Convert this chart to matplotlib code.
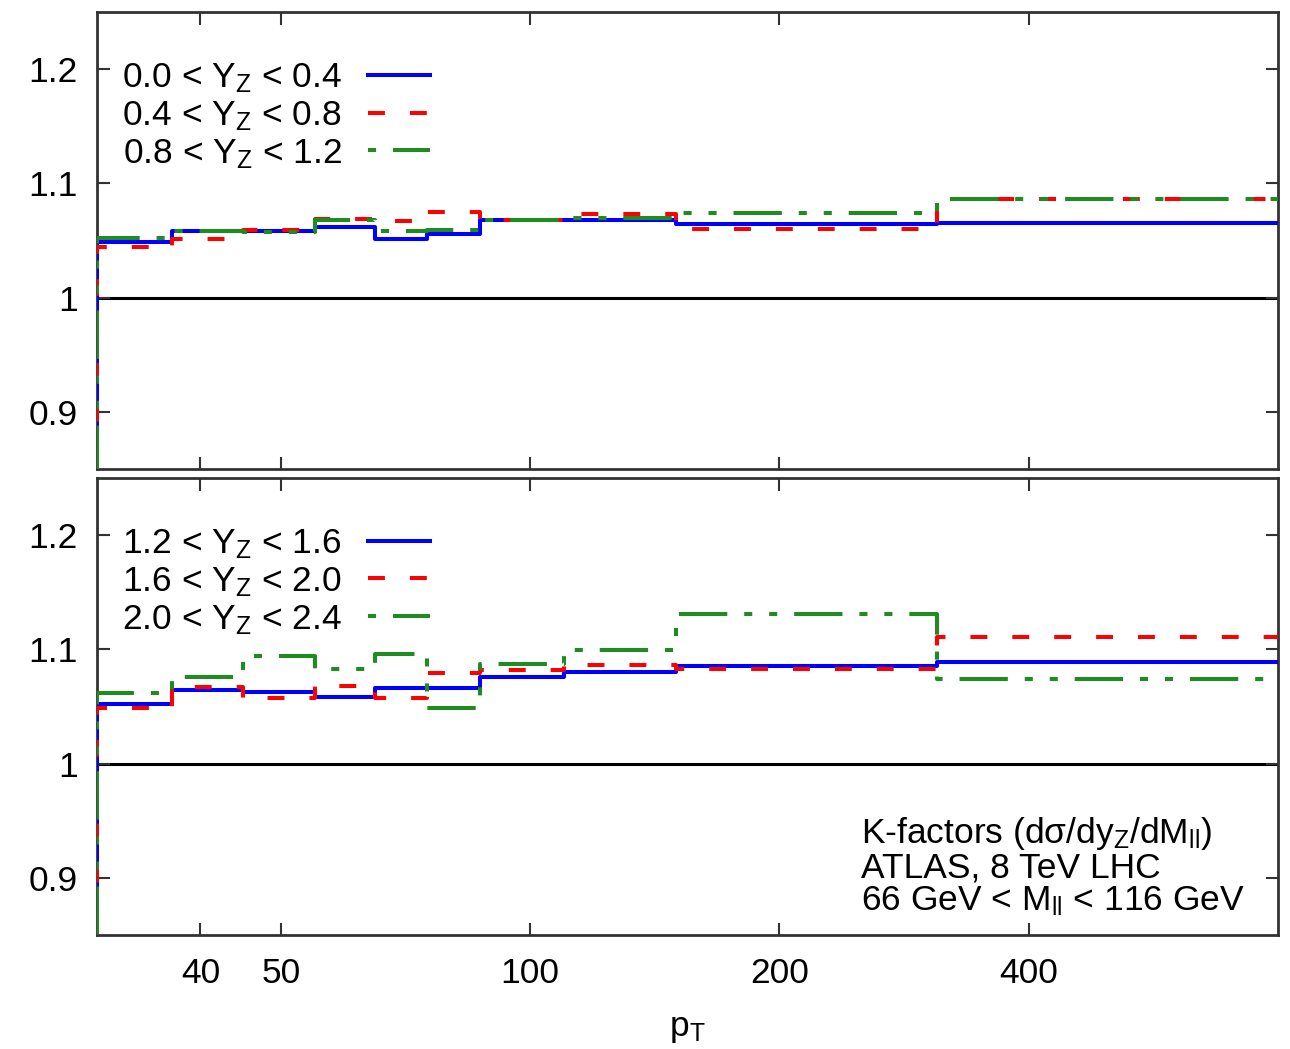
import numpy as np
import matplotlib
matplotlib.use('Agg')
import matplotlib.pyplot as plt
from matplotlib.lines import Line2D
from matplotlib.ticker import FixedLocator, NullLocator, FuncFormatter

plt.rcParams['font.family'] = ['Liberation Sans', 'DejaVu Sans']
plt.rcParams['mathtext.default'] = 'regular'

# pT bin edges (GeV)
edges = [30, 37, 45, 55, 65, 75, 87, 110, 150, 310, 800]

# K-factors, upper panel
k_00_04 = [1.049, 1.058, 1.058, 1.062, 1.051, 1.056, 1.068, 1.068, 1.064, 1.065]
k_04_08 = [1.044, 1.051, 1.059, 1.069, 1.067, 1.075, 1.068, 1.073, 1.060, 1.086]
k_08_12 = [1.052, 1.058, 1.057, 1.068, 1.058, 1.059, 1.068, 1.070, 1.074, 1.086]

# K-factors, lower panel
k_12_16 = [1.052, 1.064, 1.063, 1.058, 1.066, 1.066, 1.076, 1.080, 1.085, 1.089]
k_16_20 = [1.049, 1.067, 1.057, 1.068, 1.057, 1.079, 1.082, 1.086, 1.083, 1.111]
k_20_24 = [1.062, 1.076, 1.094, 1.083, 1.096, 1.049, 1.087, 1.099, 1.131, 1.074]

top_labels = ['0.0 < Y$_Z$ < 0.4', '0.4 < Y$_Z$ < 0.8', '0.8 < Y$_Z$ < 1.2']
bot_labels = ['1.2 < Y$_Z$ < 1.6', '1.6 < Y$_Z$ < 2.0', '2.0 < Y$_Z$ < 2.4']

xticks = [40, 50, 100, 200, 400]
yticks = [0.9, 1.0, 1.1, 1.2]

lw = 2.9
colors = ['#0000ff', '#ff0000', '#1e8c1e']
line_styles = ['-', (0, (4.2, 6.2)), (0, (12, 4.2, 2, 4.2, 2, 4.2))]
# legend samples: green starts on a dot like the gnuplot key
legend_styles = ['-', (0, (4.2, 6.2)), (22.4, (12, 4.2, 2, 4.2, 2, 4.2))]

fig = plt.figure(figsize=(12.9, 10.49), dpi=100)
ax1 = fig.add_axes([0.0752, 0.5529, 0.9155, 0.4357])
ax2 = fig.add_axes([0.0752, 0.1087, 0.9155, 0.4357])

fs = 25.5


def draw_panel(ax, series, labels, show_x):
    ax.axhline(1.0, color='black', lw=2.2, zorder=1)
    for vals, c, ls in zip(series, colors, line_styles):
        xs = np.r_[edges[0], edges]
        ys = np.r_[0.0, vals, vals[-1]]
        ax.step(xs, ys, where='post', lw=lw, zorder=3, color=c, linestyle=ls)
    handles = [Line2D([], [], color=c, lw=lw, linestyle=ls)
               for c, ls in zip(colors, legend_styles)]
    ax.set_xscale('log')
    ax.set_xlim(30, 800)
    ax.set_ylim(0.85, 1.25)
    ax.xaxis.set_major_locator(FixedLocator(xticks))
    ax.xaxis.set_minor_locator(NullLocator())
    ax.xaxis.set_major_formatter(FuncFormatter(lambda v, p: '%g' % v))
    ax.yaxis.set_major_locator(FixedLocator(yticks))
    ax.yaxis.set_major_formatter(FuncFormatter(lambda v, p: '%g' % v))
    ax.tick_params(direction='in', length=9, width=1.5, color='#333333',
                   top=True, right=True, labelsize=fs, pad=14)
    ax.tick_params(axis='x', pad=16, labelbottom=show_x)
    for s in ax.spines.values():
        s.set_linewidth(2.0)
        s.set_color('#333333')
    ax.legend(handles, labels, loc='upper left', bbox_to_anchor=(0.0, 0.947),
              frameon=False, fontsize=fs, markerfirst=False,
              handlelength=1.75, handletextpad=0.75, labelspacing=0.12,
              borderaxespad=0.3)


draw_panel(ax1, [k_00_04, k_04_08, k_08_12], top_labels, False)
draw_panel(ax2, [k_12_16, k_16_20, k_20_24], bot_labels, True)

ax2.text(0.647, 0.15, 'K-factors (d\u03c3/dy$_Z$/dM$_{ll}$)\nATLAS, 8 TeV LHC\n66 GeV < M$_{ll}$ < 116 GeV',
         transform=ax2.transAxes, fontsize=fs, ha='left', va='center',
         linespacing=0.98)
ax2.set_xlabel('p$_T$', fontsize=fs, labelpad=16)

fig.savefig('out.png', dpi=100)
